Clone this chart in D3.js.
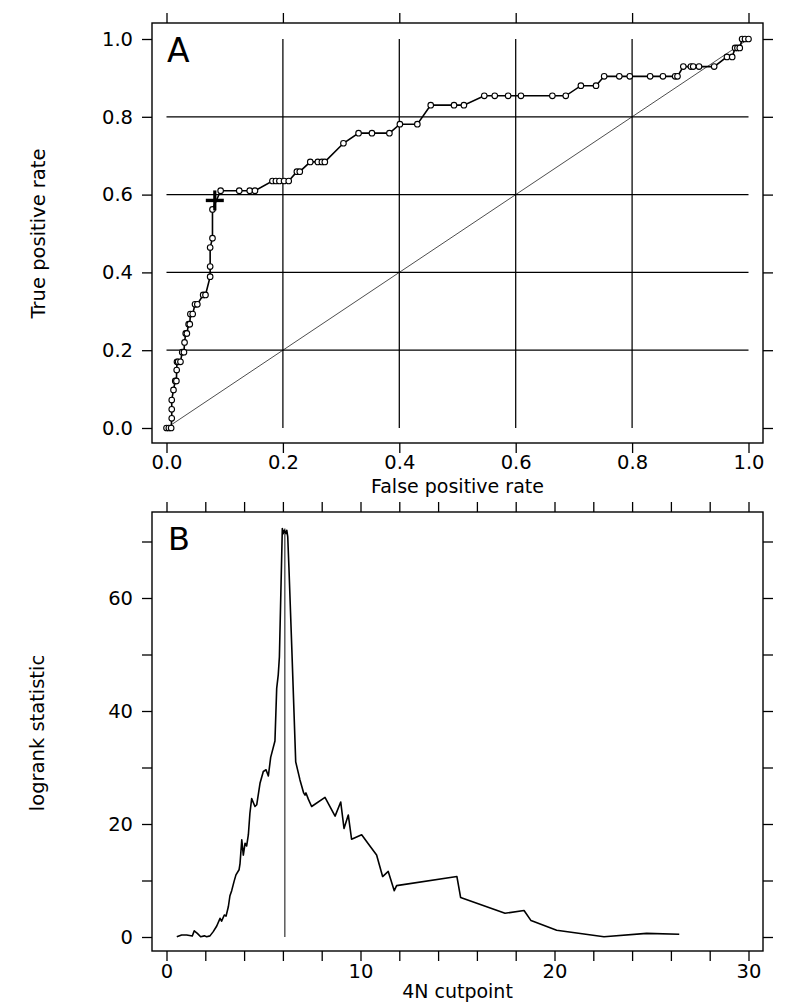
<!DOCTYPE html>
<html><head><meta charset="utf-8">
<script src="https://cdn.jsdelivr.net/npm/d3@7"></script>
<style>
body{margin:0;background:#fff;}
svg text{font-family:"DejaVu Sans",sans-serif;fill:#000;}
</style></head><body>
<svg id="chart" width="786" height="1007"></svg>
<script>
// ---------- Panel A: ROC curve ----------
const rocFPR = [0.000,0.004,0.008,0.009,0.009,0.009,0.012,0.015,0.017,0.0175,0.018,0.020,0.024,0.027,0.030,0.031,0.033,0.035,0.038,0.040,0.041,0.045,0.049,0.053,0.063,0.067,0.075,0.075,0.075,0.079,0.079,0.093,0.125,0.143,0.152,0.182,0.188,0.194,0.202,0.210,0.224,0.229,0.247,0.260,0.267,0.272,0.304,0.330,0.353,0.383,0.401,0.431,0.454,0.494,0.511,0.546,0.564,0.587,0.609,0.663,0.686,0.712,0.738,0.752,0.778,0.796,0.831,0.853,0.874,0.878,0.888,0.901,0.905,0.915,0.941,0.963,0.972,0.977,0.981,0.985,0.989,0.994,1.000];
const rocTPR = [0.000,0.000,0.000,0.025,0.048,0.072,0.098,0.121,0.121,0.149,0.170,0.170,0.170,0.195,0.195,0.220,0.243,0.243,0.267,0.267,0.293,0.293,0.318,0.318,0.342,0.342,0.389,0.415,0.464,0.488,0.562,0.610,0.610,0.610,0.610,0.635,0.635,0.635,0.635,0.635,0.659,0.659,0.684,0.684,0.684,0.684,0.732,0.758,0.758,0.758,0.781,0.781,0.830,0.830,0.830,0.854,0.854,0.854,0.854,0.854,0.854,0.880,0.880,0.904,0.904,0.904,0.904,0.904,0.904,0.904,0.929,0.929,0.929,0.929,0.929,0.954,0.954,0.977,0.977,0.977,1.000,1.000,1.000];
const cutMarkerFPR = [0.083];
const cutMarkerTPR = [0.585];
const diagonal = [0, 1];
const rocTicks = [0.0, 0.2, 0.4, 0.6, 0.8, 1.0];
const rocGrid = [0.2, 0.4, 0.6, 0.8];

// ---------- Panel B: logrank statistic ----------
const cutpoint = [0.53,0.78,1.04,1.33,1.43,1.59,1.76,1.95,2.07,2.24,2.41,2.59,2.76,2.84,2.98,3.07,3.19,3.27,3.36,3.48,3.58,3.74,3.79,3.88,3.96,4.05,4.13,4.22,4.30,4.39,4.56,4.65,4.82,4.99,5.13,5.25,5.37,5.59,5.68,5.76,5.82,5.97,6.02,6.07,6.16,6.20,6.25,6.31,6.46,6.66,6.88,7.07,7.14,7.19,7.31,7.48,8.17,8.69,8.98,9.15,9.37,9.54,10.06,10.40,10.83,11.14,11.43,11.74,11.86,14.97,15.16,17.45,18.43,18.79,20.11,22.55,24.75,26.43];
const logrank = [0.05,0.35,0.35,0.18,1.1,0.65,0.05,0.2,0.05,0.2,0.95,1.95,3.3,2.8,3.9,3.7,5.4,7.3,8.2,9.8,11.0,11.9,13.0,17.2,14.5,16.6,16.1,18.1,21.9,24.5,23.1,23.4,27.2,29.3,29.6,28.5,31.8,34.7,44.0,46.4,49.6,72.3,71.4,72.0,71.4,72.0,70.8,65.5,51.0,31.0,27.8,25.5,25.1,25.5,24.4,23.1,24.7,21.4,23.9,19.2,21.6,17.3,18.1,16.5,14.5,10.7,11.6,8.2,9.1,10.7,7.0,4.2,4.7,2.9,1.2,0.05,0.65,0.5];
const optimalCut = [6.1];
const optimalStat = [0, 72.3];
const bXTicks = [0,2,4,6,8,10,12,14,16,18,20,22,24,26,28,30];
const bXLabels = [0, 10, 20, 30];
const bYTicks = [0,10,20,30,40,50,60,70];
const bYLabels = [0, 20, 40, 60];

const svg = d3.select("#chart");
const FS = 19.5;

function frame(g, x0, y0, x1, y1){
  g.append("rect").attr("x",x0).attr("y",y0).attr("width",x1-x0).attr("height",y1-y0)
    .attr("fill","none").attr("stroke","#000").attr("stroke-width",1.4);
}
function styleAxis(sel){
  sel.select(".domain").remove();
  sel.selectAll(".tick line").attr("stroke","#000").attr("stroke-width",1.3);
  sel.selectAll(".tick text").style("font-size",FS+"px").attr("fill","#000");
}

// ===== Panel A =====
const A = {x0:152, x1:763, y0:23, y1:443};
const xA = d3.scaleLinear().domain([0,1]).range([166.5,748.5]);
const yA = d3.scaleLinear().domain([0,1]).range([428,39]);
const gA = svg.append("g");

gA.selectAll("line.hg").data(rocGrid).join("line").attr("class","hg")
  .attr("x1",xA(0)).attr("x2",xA(1)).attr("y1",d=>yA(d)).attr("y2",d=>yA(d))
  .attr("stroke","#000").attr("stroke-width",1.25);
gA.selectAll("line.vg").data(rocGrid).join("line").attr("class","vg")
  .attr("y1",yA(0)).attr("y2",yA(1)).attr("x1",d=>xA(d)).attr("x2",d=>xA(d))
  .attr("stroke","#000").attr("stroke-width",1.25);
gA.append("line").attr("x1",xA(diagonal[0])).attr("y1",yA(diagonal[0]))
  .attr("x2",xA(diagonal[1])).attr("y2",yA(diagonal[1]))
  .attr("stroke","#000").attr("stroke-width",0.7);

frame(gA, A.x0, A.y0, A.x1, A.y1);

styleAxis(gA.append("g").attr("transform",`translate(${A.x0},0)`)
  .call(d3.axisLeft(yA).tickValues(rocTicks).tickSize(10).tickPadding(9).tickFormat(d3.format(".1f"))));
styleAxis(gA.append("g").attr("transform",`translate(0,${A.y1})`)
  .call(d3.axisBottom(xA).tickValues(rocTicks).tickSize(10).tickPadding(2).tickFormat(d3.format(".1f"))));
styleAxis(gA.append("g").attr("transform",`translate(0,${A.y0})`)
  .call(d3.axisTop(xA).tickValues(rocTicks).tickSize(10).tickFormat("")));
styleAxis(gA.append("g").attr("transform",`translate(${A.x1},0)`)
  .call(d3.axisRight(yA).tickValues(rocTicks).tickSize(10).tickFormat("")));

const rocData = rocFPR.map((f,i)=>({f, t:rocTPR[i]}));
gA.append("path").datum(rocData)
  .attr("d", d3.line().x(d=>xA(d.f)).y(d=>yA(d.t)))
  .attr("fill","none").attr("stroke","#000").attr("stroke-width",1.6);
gA.selectAll("circle").data(rocData).join("circle")
  .attr("cx",d=>xA(d.f)).attr("cy",d=>yA(d.t)).attr("r",2.8)
  .attr("fill","#fff").attr("stroke","#000").attr("stroke-width",1.1);
cutMarkerFPR.forEach((f,i)=>{
  const cx = xA(f), cy = yA(cutMarkerTPR[i]);
  gA.append("line").attr("x1",cx-9).attr("x2",cx+9).attr("y1",cy).attr("y2",cy)
    .attr("stroke","#000").attr("stroke-width",3.4);
  gA.append("line").attr("x1",cx).attr("x2",cx).attr("y1",cy-10).attr("y2",cy+10)
    .attr("stroke","#000").attr("stroke-width",3.2);
});

gA.append("text").attr("x",167).attr("y",62).style("font-size","33px").text("A");
gA.append("text").attr("x",457.5).attr("y",493).attr("text-anchor","middle")
  .style("font-size","19px").text("False positive rate");
gA.append("text").attr("transform","translate(45,233.5) rotate(-90)").attr("text-anchor","middle")
  .style("font-size","19.5px").text("True positive rate");

// ===== Panel B =====
const B = {x0:152, x1:763, y0:512, y1:951};
const xB = d3.scaleLinear().domain([0,30]).range([166.5,748.5]);
const yB = d3.scaleLinear().domain([0,70]).range([937,541.5]);
const gB = svg.append("g");

frame(gB, B.x0, B.y0, B.x1, B.y1);

styleAxis(gB.append("g").attr("transform",`translate(${B.x0},0)`)
  .call(d3.axisLeft(yB).tickValues(bYTicks).tickSize(10).tickPadding(9)
    .tickFormat(d=>bYLabels.includes(d)?d:"")));
styleAxis(gB.append("g").attr("transform",`translate(0,${B.y1})`)
  .call(d3.axisBottom(xB).tickValues(bXTicks).tickSize(10).tickPadding(3)
    .tickFormat(d=>bXLabels.includes(d)?d:"")));
styleAxis(gB.append("g").attr("transform",`translate(0,${B.y0})`)
  .call(d3.axisTop(xB).tickValues(bXTicks).tickSize(10).tickFormat("")));
styleAxis(gB.append("g").attr("transform",`translate(${B.x1},0)`)
  .call(d3.axisRight(yB).tickValues(bYTicks).tickSize(10).tickFormat("")));

gB.append("line").attr("x1",xB(optimalCut[0])).attr("x2",xB(optimalCut[0]))
  .attr("y1",yB(optimalStat[0])).attr("y2",yB(optimalStat[1]))
  .attr("stroke","#333").attr("stroke-width",1.2);

const lrData = cutpoint.map((c,i)=>({c, s:logrank[i]}));
gB.append("path").datum(lrData)
  .attr("d", d3.line().x(d=>xB(d.c)).y(d=>yB(d.s)))
  .attr("fill","none").attr("stroke","#000").attr("stroke-width",1.6).attr("stroke-linejoin","round");

gB.append("text").attr("x",168).attr("y",550).style("font-size","32px").text("B");
gB.append("text").attr("x",457.5).attr("y",998).attr("text-anchor","middle")
  .style("font-size","19px").text("4N cutpoint");
gB.append("text").attr("transform","translate(44,733) rotate(-90)").attr("text-anchor","middle")
  .style("font-size","19.5px").text("logrank statistic");
</script>
</body></html>
